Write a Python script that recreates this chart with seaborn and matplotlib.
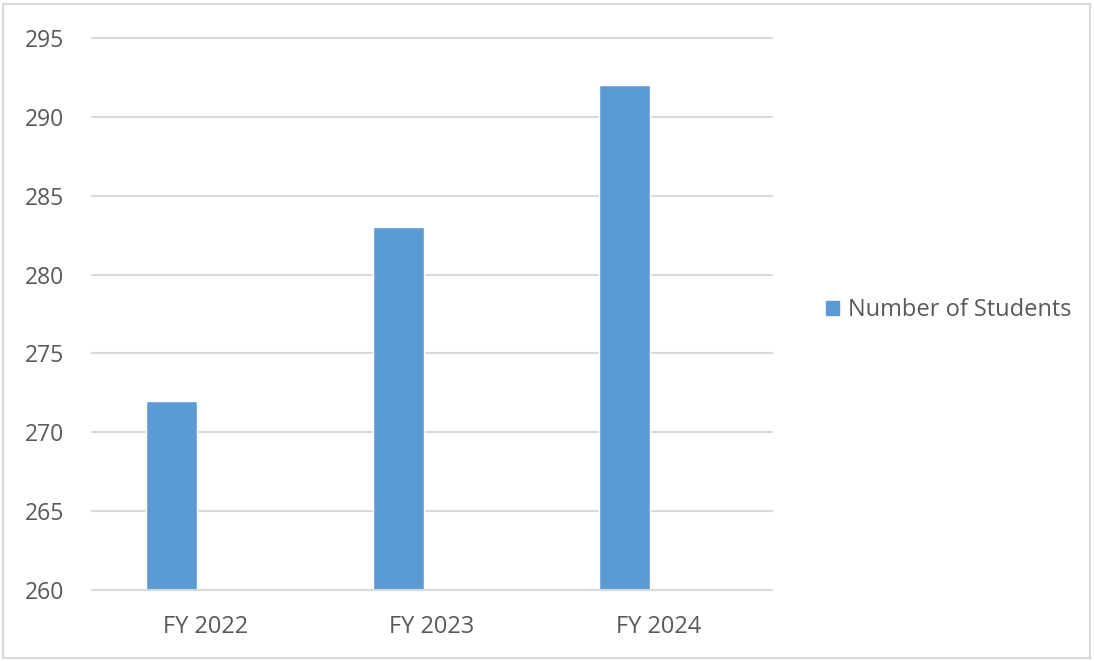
import matplotlib
matplotlib.use("Agg")
import matplotlib.pyplot as plt
import seaborn as sns
import pandas as pd
from matplotlib.patches import Rectangle

categories = ["FY 2022", "FY 2023", "FY 2024"]
students = [272, 283, 292]
series_name = "Number of Students"
yticks = [260, 265, 270, 275, 280, 285, 290, 295]

df = pd.DataFrame({"Year": categories, "Value": students, "Series": series_name})

sns.set_theme(style="white")
plt.rcParams["font.family"] = ["Open Sans", "DejaVu Sans"]

fig = plt.figure(figsize=(10.94, 6.61), dpi=100)
ax = fig.add_axes([92/1094, 1-590/661, (772-92)/1094, (590-38)/661])

bar_color = "#5b9bd5"
sns.barplot(data=df, x="Year", y="Value", hue="Series", palette=[bar_color],
            width=0.225, ax=ax, legend=False, saturation=1)
# Excel-style clustered offset (bar sits left of the category centre)
for p in ax.patches:
    p.set_x(p.get_x() - 0.15)

ax.set_ylim(260, 295)
ax.set_yticks(yticks)
ax.set_xlim(-0.5, 2.5)
ax.yaxis.grid(True, color="#d9d9d9", linewidth=1.5)
for gl in ax.get_ygridlines():
    gl.set_clip_on(False)
ax.set_axisbelow(True)
for s in ["top", "right", "left"]:
    ax.spines[s].set_visible(False)
ax.spines["bottom"].set_color("#d9d9d9")
ax.spines["bottom"].set_linewidth(1.5)
ax.set_xlabel("")
ax.set_ylabel("")
ax.tick_params(axis="both", length=0, colors="#595959")
ax.tick_params(axis="y", pad=48, labelsize=16.5)
for lbl in ax.get_yticklabels():
    lbl.set_horizontalalignment("left")
ax.tick_params(axis="x", pad=18, labelsize=17)

handle = Rectangle((0, 0), 1, 1, color=bar_color)
leg = fig.legend([handle], [series_name], loc="center left",
                 bbox_to_anchor=(805/1094, 1-310/661), frameon=False,
                 fontsize=17, handlelength=0.55, handleheight=0.55, handletextpad=0.38)
for t in leg.get_texts():
    t.set_color("#595959")

fig.patches.append(Rectangle((3/1094, 3/661), 1087/1094, 654/661, transform=fig.transFigure,
                             fill=False, edgecolor="#d9d9d9", linewidth=1.5))

fig.savefig("out.png", dpi=100, facecolor="white")
